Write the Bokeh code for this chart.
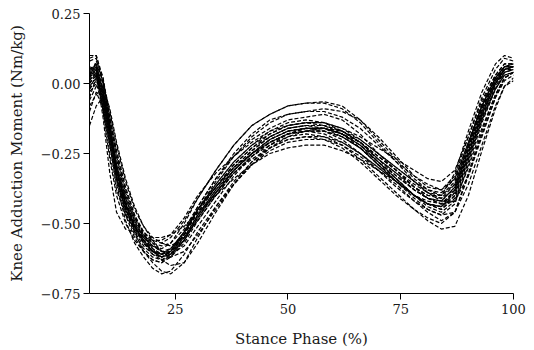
from bokeh.plotting import figure
from bokeh.models import Range1d, FixedTicker, ColumnDataSource
from bokeh.embed import file_html
from bokeh.resources import INLINE

# Stance phase sample points (%)
stance = [6, 7.5, 9, 10.5, 12, 14, 16, 18, 20, 22, 24, 27, 30, 34, 38, 42, 46, 50,
          54, 58, 62, 66, 70, 74, 78, 81, 84, 87, 90, 93, 96, 98, 100]

# Knee adduction moment (Nm/kg), one list per trial
trial_01 = [0.05, 0.06, -0.10, -0.27, -0.40, -0.50, -0.56, -0.60, -0.63, -0.64, -0.61, -0.54, -0.45, -0.36, -0.28, -0.22, -0.18, -0.15, -0.14, -0.15, -0.18, -0.23, -0.29, -0.34, -0.40, -0.43, -0.44, -0.38, -0.23, -0.09, 0.01, 0.05, 0.06]
trial_02 = [-0.05, 0.02, 0.01, -0.10, -0.22, -0.35, -0.45, -0.51, -0.55, -0.57, -0.58, -0.55, -0.49, -0.40, -0.32, -0.26, -0.21, -0.18, -0.17, -0.17, -0.19, -0.23, -0.28, -0.33, -0.38, -0.41, -0.43, -0.42, -0.30, -0.16, -0.04, 0.02, 0.04]
trial_03 = [0.02, 0.08, 0.02, -0.12, -0.27, -0.40, -0.48, -0.53, -0.56, -0.57, -0.55, -0.49, -0.41, -0.31, -0.22, -0.15, -0.11, -0.08, -0.07, -0.07, -0.09, -0.14, -0.21, -0.28, -0.35, -0.39, -0.40, -0.35, -0.21, -0.07, 0.03, 0.07, 0.07]
trial_04 = [-0.03, 0.00, -0.08, -0.22, -0.36, -0.49, -0.57, -0.62, -0.66, -0.68, -0.67, -0.61, -0.53, -0.44, -0.36, -0.29, -0.24, -0.21, -0.20, -0.20, -0.22, -0.26, -0.31, -0.36, -0.42, -0.46, -0.49, -0.46, -0.33, -0.18, -0.05, 0.02, 0.04]
trial_05 = [-0.15, -0.08, -0.05, -0.13, -0.25, -0.38, -0.47, -0.53, -0.57, -0.60, -0.61, -0.58, -0.51, -0.42, -0.33, -0.26, -0.21, -0.18, -0.16, -0.16, -0.18, -0.21, -0.26, -0.31, -0.36, -0.39, -0.41, -0.38, -0.25, -0.11, 0.00, 0.05, 0.06]
trial_06 = [0.04, 0.03, -0.12, -0.32, -0.46, -0.52, -0.53, -0.56, -0.60, -0.62, -0.60, -0.53, -0.45, -0.37, -0.30, -0.25, -0.21, -0.18, -0.17, -0.17, -0.19, -0.23, -0.29, -0.35, -0.41, -0.45, -0.47, -0.43, -0.29, -0.14, -0.02, 0.04, 0.05]
trial_07 = [0.08, 0.09, 0.00, -0.15, -0.29, -0.41, -0.49, -0.54, -0.57, -0.58, -0.57, -0.52, -0.44, -0.34, -0.25, -0.18, -0.13, -0.11, -0.10, -0.09, -0.10, -0.13, -0.19, -0.26, -0.33, -0.37, -0.38, -0.33, -0.19, -0.05, 0.05, 0.09, 0.08]
trial_08 = [-0.02, 0.03, -0.04, -0.17, -0.31, -0.43, -0.51, -0.57, -0.61, -0.63, -0.62, -0.57, -0.49, -0.40, -0.32, -0.26, -0.22, -0.19, -0.18, -0.19, -0.22, -0.27, -0.33, -0.39, -0.45, -0.49, -0.52, -0.51, -0.40, -0.24, -0.09, -0.01, 0.02]
trial_09 = [0.01, 0.05, -0.04, -0.18, -0.31, -0.43, -0.50, -0.55, -0.58, -0.60, -0.59, -0.54, -0.46, -0.37, -0.29, -0.23, -0.18, -0.15, -0.14, -0.14, -0.16, -0.19, -0.23, -0.27, -0.31, -0.34, -0.35, -0.31, -0.19, -0.06, 0.03, 0.07, 0.07]
trial_10 = [-0.06, -0.01, -0.02, -0.12, -0.24, -0.37, -0.47, -0.54, -0.59, -0.63, -0.65, -0.64, -0.57, -0.46, -0.36, -0.28, -0.22, -0.18, -0.16, -0.16, -0.18, -0.22, -0.28, -0.34, -0.40, -0.43, -0.45, -0.41, -0.27, -0.12, 0.00, 0.05, 0.06]
trial_11 = [0.09, 0.10, 0.02, -0.14, -0.30, -0.43, -0.51, -0.56, -0.59, -0.61, -0.60, -0.54, -0.46, -0.37, -0.29, -0.23, -0.19, -0.16, -0.15, -0.16, -0.19, -0.23, -0.29, -0.35, -0.40, -0.43, -0.44, -0.39, -0.25, -0.11, 0.00, 0.04, 0.05]
trial_12 = [0.00, 0.03, -0.07, -0.21, -0.34, -0.45, -0.51, -0.54, -0.55, -0.55, -0.54, -0.51, -0.46, -0.40, -0.34, -0.29, -0.25, -0.23, -0.22, -0.22, -0.24, -0.27, -0.31, -0.35, -0.40, -0.42, -0.43, -0.38, -0.24, -0.10, 0.01, 0.06, 0.07]
trial_13 = [0.03, 0.06, -0.03, -0.17, -0.31, -0.43, -0.51, -0.56, -0.60, -0.61, -0.59, -0.53, -0.45, -0.37, -0.30, -0.24, -0.19, -0.16, -0.15, -0.15, -0.17, -0.21, -0.26, -0.31, -0.37, -0.40, -0.40, -0.32, -0.17, -0.03, 0.07, 0.10, 0.09]
trial_14 = [-0.01, 0.02, -0.06, -0.20, -0.33, -0.45, -0.52, -0.57, -0.60, -0.61, -0.60, -0.55, -0.47, -0.38, -0.31, -0.25, -0.20, -0.17, -0.16, -0.17, -0.20, -0.25, -0.31, -0.37, -0.42, -0.45, -0.47, -0.46, -0.36, -0.22, -0.08, -0.01, 0.01]
trial_15 = [0.02, 0.05, -0.05, -0.19, -0.33, -0.45, -0.53, -0.58, -0.61, -0.62, -0.60, -0.53, -0.44, -0.34, -0.26, -0.20, -0.16, -0.13, -0.12, -0.11, -0.13, -0.18, -0.25, -0.31, -0.37, -0.41, -0.42, -0.37, -0.23, -0.09, 0.01, 0.05, 0.05]
trial_16 = [-0.10, -0.03, -0.09, -0.22, -0.35, -0.47, -0.55, -0.60, -0.63, -0.64, -0.62, -0.56, -0.48, -0.39, -0.31, -0.25, -0.20, -0.17, -0.16, -0.16, -0.18, -0.22, -0.27, -0.32, -0.38, -0.41, -0.43, -0.39, -0.26, -0.12, -0.02, 0.03, 0.04]
trial_17 = [0.05, 0.07, -0.02, -0.16, -0.30, -0.42, -0.50, -0.55, -0.58, -0.59, -0.57, -0.50, -0.41, -0.31, -0.22, -0.15, -0.11, -0.08, -0.07, -0.065, -0.08, -0.13, -0.20, -0.27, -0.34, -0.38, -0.40, -0.36, -0.22, -0.08, 0.02, 0.06, 0.06]
trial_18 = [0.03, 0.07, 0.01, -0.12, -0.26, -0.39, -0.48, -0.54, -0.58, -0.60, -0.60, -0.56, -0.48, -0.39, -0.31, -0.25, -0.20, -0.17, -0.16, -0.16, -0.18, -0.22, -0.28, -0.34, -0.40, -0.44, -0.46, -0.42, -0.28, -0.13, -0.01, 0.04, 0.05]
trial_19 = [0.01, 0.04, -0.06, -0.20, -0.34, -0.46, -0.54, -0.59, -0.62, -0.63, -0.61, -0.55, -0.47, -0.39, -0.32, -0.27, -0.23, -0.20, -0.19, -0.20, -0.23, -0.28, -0.34, -0.40, -0.45, -0.48, -0.50, -0.46, -0.32, -0.17, -0.04, 0.02, 0.04]
trial_20 = [0.06, 0.05, -0.09, -0.25, -0.38, -0.47, -0.52, -0.55, -0.56, -0.56, -0.54, -0.48, -0.40, -0.32, -0.26, -0.21, -0.17, -0.15, -0.14, -0.14, -0.16, -0.20, -0.25, -0.30, -0.35, -0.38, -0.39, -0.34, -0.21, -0.08, 0.02, 0.06, 0.06]
trial_21 = [-0.02, 0.01, -0.05, -0.18, -0.31, -0.43, -0.51, -0.56, -0.60, -0.62, -0.61, -0.56, -0.48, -0.39, -0.31, -0.25, -0.21, -0.18, -0.17, -0.18, -0.21, -0.25, -0.30, -0.35, -0.40, -0.43, -0.45, -0.40, -0.26, -0.11, 0.00, 0.05, 0.06]
trial_22 = [0.00, 0.04, -0.04, -0.17, -0.31, -0.44, -0.53, -0.60, -0.64, -0.67, -0.68, -0.64, -0.55, -0.44, -0.35, -0.28, -0.23, -0.20, -0.19, -0.19, -0.21, -0.25, -0.30, -0.35, -0.40, -0.43, -0.44, -0.40, -0.27, -0.13, -0.02, 0.03, 0.04]
trial_23 = [0.10, 0.10, 0.00, -0.16, -0.31, -0.43, -0.51, -0.56, -0.60, -0.62, -0.61, -0.56, -0.47, -0.38, -0.30, -0.24, -0.19, -0.16, -0.15, -0.15, -0.17, -0.21, -0.27, -0.32, -0.37, -0.40, -0.41, -0.36, -0.22, -0.08, 0.02, 0.06, 0.06]
trial_24 = [0.02, 0.06, -0.02, -0.15, -0.29, -0.41, -0.49, -0.55, -0.59, -0.61, -0.60, -0.54, -0.45, -0.35, -0.26, -0.19, -0.14, -0.11, -0.10, -0.10, -0.12, -0.16, -0.22, -0.28, -0.33, -0.36, -0.38, -0.34, -0.21, -0.08, 0.02, 0.06, 0.07]
trial_25 = [-0.08, -0.04, -0.01, -0.09, -0.21, -0.34, -0.44, -0.51, -0.56, -0.60, -0.62, -0.60, -0.54, -0.45, -0.36, -0.29, -0.23, -0.19, -0.17, -0.16, -0.17, -0.20, -0.25, -0.30, -0.35, -0.39, -0.42, -0.42, -0.33, -0.19, -0.05, 0.01, 0.03]
trial_26 = [0.04, 0.07, -0.03, -0.18, -0.32, -0.44, -0.52, -0.57, -0.60, -0.61, -0.59, -0.53, -0.45, -0.36, -0.28, -0.22, -0.17, -0.14, -0.13, -0.14, -0.17, -0.21, -0.27, -0.33, -0.38, -0.41, -0.42, -0.37, -0.24, -0.10, 0.01, 0.05, 0.06]

trials = [trial_01, trial_02, trial_03, trial_04, trial_05, trial_06, trial_07,
          trial_08, trial_09, trial_10, trial_11, trial_12, trial_13, trial_14,
          trial_15, trial_16, trial_17, trial_18, trial_19, trial_20, trial_21,
          trial_22, trial_23, trial_24, trial_25, trial_26]

x_ticks = [25, 50, 75, 100]
y_ticks = [0.25, 0.0, -0.25, -0.5, -0.75]
y_tick_labels = ["0.25", "0.00", "\u22120.25", "\u22120.50", "\u22120.75"]

FONT = "DejaVu Serif"

p = figure(width=534, height=350, output_backend="svg", toolbar_location=None,
           x_range=Range1d(6, 100), y_range=Range1d(-0.75, 0.25),
           min_border_left=89, min_border_right=21, min_border_top=13,
           min_border_bottom=56)

source = ColumnDataSource(dict(xs=[stance] * len(trials), ys=trials))
p.multi_line(xs="xs", ys="ys", source=source, line_color="black",
             line_width=1.2, line_dash="4 2")

p.outline_line_color = None
p.grid.grid_line_color = None
p.background_fill_color = "white"
p.border_fill_color = "white"

p.xaxis.ticker = FixedTicker(ticks=x_ticks)
p.yaxis.ticker = FixedTicker(ticks=y_ticks)
p.yaxis.major_label_overrides = {t: l for t, l in zip(y_ticks, y_tick_labels)}

for ax in (p.xaxis[0], p.yaxis[0]):
    ax.axis_line_color = "black"
    ax.axis_line_width = 1
    ax.major_tick_line_color = "black"
    ax.major_tick_out = 6
    ax.major_tick_in = 0
    ax.minor_tick_line_color = None
    ax.major_label_text_font = FONT
    ax.major_label_text_font_size = "13px"
    ax.major_label_text_color = "#1a1a1a"
    ax.axis_label_text_font = FONT
    ax.axis_label_text_font_size = "15px"
    ax.axis_label_text_font_style = "normal"
    ax.axis_label_text_color = "#1a1a1a"

p.xaxis.axis_label = "Stance Phase (%)"
p.yaxis.axis_label = "Knee Adduction Moment (Nm/kg)"
p.xaxis.major_label_standoff = 4
p.yaxis.major_label_standoff = 3
p.xaxis.axis_label_standoff = 13
p.yaxis.axis_label_standoff = 12

open("out.html", "w").write(file_html(p, INLINE))
